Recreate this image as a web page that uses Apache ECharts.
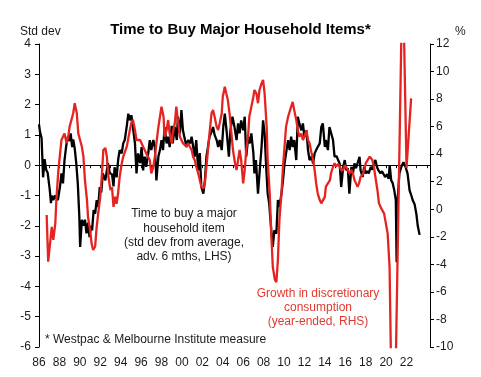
<!DOCTYPE html>
<html>
<head>
<meta charset="utf-8">
<script src="https://cdn.jsdelivr.net/npm/echarts@6/dist/echarts.min.js"></script>
<style>
  html, body { margin: 0; padding: 0; background: #fff; }
  #chart { width: 481px; height: 377px; }
</style>
</head>
<body>
<div id="chart"></div>
<script>
// Time to buy a major household item (std dev, adv. 6 mths, LHS)
var blackYears = [
    1986.0, 1986.1, 1986.25, 1986.4, 1986.55, 1986.7, 1986.85, 1987.05, 1987.17, 1987.25,
    1987.4, 1987.55, 1987.7, 1987.85, 1988.05, 1988.2, 1988.35, 1988.5, 1988.65, 1988.8,
    1988.95, 1989.1, 1989.25, 1989.35, 1989.5, 1989.65, 1989.8, 1989.95, 1990.03, 1990.2,
    1990.35, 1990.5, 1990.65, 1990.8, 1990.95, 1991.1, 1991.2, 1991.35, 1991.5, 1991.65,
    1991.8, 1991.95, 1992.1, 1992.25, 1992.5, 1992.75, 1992.95, 1993.15, 1993.3, 1993.4,
    1993.6, 1993.75, 1993.9, 1994.1, 1994.25, 1994.4, 1994.6, 1994.75, 1994.9, 1995.05,
    1995.2, 1995.4, 1995.55, 1995.7, 1995.9, 1996.05, 1996.2, 1996.35, 1996.5, 1996.7,
    1996.85, 1997.0, 1997.2, 1997.35, 1997.5, 1997.7, 1997.85, 1998.0, 1998.15, 1998.3,
    1998.5, 1998.65, 1998.8, 1999.0, 1999.1, 1999.3, 1999.5, 1999.6, 1999.8, 1999.95,
    2000.1, 2000.3, 2000.45, 2000.6, 2000.8, 2000.95, 2001.1, 2001.25, 2001.4, 2001.6,
    2001.75, 2001.9, 2002.1, 2002.25, 2002.4, 2002.55, 2002.7, 2002.9, 2003.05, 2003.2,
    2003.4, 2003.55, 2003.7, 2003.9, 2004.05, 2004.2, 2004.4, 2004.6, 2004.75, 2004.95,
    2005.15, 2005.35, 2005.5, 2005.65, 2005.8, 2006.0, 2006.15, 2006.3, 2006.5, 2006.65,
    2006.8, 2007.0, 2007.1, 2007.25, 2007.45, 2007.6, 2007.8, 2007.95, 2008.1, 2008.25,
    2008.4, 2008.55, 2008.75, 2008.9, 2009.05, 2009.25, 2009.4, 2009.55, 2009.75, 2009.9,
    2010.05, 2010.2, 2010.4, 2010.55, 2010.7, 2010.85, 2011.0, 2011.2, 2011.35, 2011.5,
    2011.7, 2011.85, 2012.0, 2012.2, 2012.35, 2012.5, 2012.7, 2012.85, 2013.0, 2013.15,
    2013.3, 2013.5, 2013.65, 2013.8, 2014.0, 2014.1, 2014.3, 2014.45, 2014.6, 2014.8,
    2014.95, 2015.15, 2015.3, 2015.45, 2015.6, 2015.8, 2015.95, 2016.1, 2016.25, 2016.4,
    2016.6, 2016.75, 2016.9, 2017.05, 2017.2, 2017.4, 2017.5, 2017.7, 2017.85, 2018.0,
    2018.15, 2018.3, 2018.5, 2018.65, 2018.8, 2018.95, 2019.1, 2019.25, 2019.45, 2019.6,
    2019.9, 2020.1, 2020.25, 2020.35, 2020.5, 2020.65, 2020.8, 2020.95, 2021.03, 2021.13,
    2021.3, 2021.5, 2021.7, 2021.9, 2022.1, 2022.3, 2022.47, 2022.6, 2022.8, 2022.96,
    2023.1, 2023.28
];
var blackValues = [
    1.35, 1.1, 0.9, -0.4, 0.2, -0.15, -0.25, -0.8, -1.25, -1.0,
    -1.15, -1.0, -1.05, -1.15, -0.72, -0.27, -0.6, 0.17, 0.6, 0.93,
    0.8, 1.05, 0.6, 0.85, 0.55, 0.06, -0.6, -1.7, -2.7, -1.8,
    -2.0, -1.8, -2.25, -1.9, -2.37, -2.0, -2.15, -1.48, -1.6, -1.15,
    -1.38, -0.72, -0.9, -0.27, -0.5, 0.07, -0.27, -0.3, -0.7, -0.07,
    -0.4, 0.17, 0.5, 0.39, 0.72, 0.83, 1.3, 1.7, 1.48, 1.65,
    1.26, 0.72, -0.27, 0.39, 0.07, 0.6, -0.17, 0.28, -0.05, 0.39,
    0.83, 0.5, 0.83, 0.6, -0.5, 0.3, 0.5, 0.83, 0.5, 1.26,
    0.72, 0.94, 0.6, 1.3, 0.72, 1.26, 0.83, 1.6, 1.05, 1.82,
    1.15, 0.83, 0.6, 0.83, 0.72, 0.94, 0.94, 0.28, 0.83, -0.17,
    0.4, -0.72, -0.94, -0.5, 0.28, 0.6, 0.94, 1.1, 1.26, 1.0,
    0.83, 0.6, 0.83, 0.5, 1.26, 1.7, 1.05, 0.28, 1.15, 1.6,
    1.26, 0.83, 1.38, 1.05, 1.48, 1.15, 1.6, 0.28, 0.94, 0.72,
    1.05, 0.39, -0.27, 0.17, -0.94, -0.27, 0.6, 1.48, 1.05, -0.05,
    -0.94, -1.27, -2.15, -2.7, -2.15, -2.26, -1.15, -1.38, -0.94, -0.5,
    0.06, 0.39, 0.83, 0.5, 0.94, 0.6, 0.83, 0.17, 1.6, 1.38,
    1.15, 1.38, 0.94, 1.15, 0.5, 0.17, 0.28, 0.06, 0.39, 0.5,
    0.6, 0.72, 1.26, 1.38, 0.6, 0.83, 0.5, 1.26, 1.26, 0.83,
    0.28, 0.3, 0.17, 0.06, -0.72, -0.05, 0.17, -0.17, -0.1, -0.94,
    -0.05, -0.27, 0.06, -0.1, -0.05, 0.28, -0.17, -0.39, -0.05, -0.27,
    -0.2, -0.27, -0.05, -0.15, 0.06, 0.17, -0.05, -0.17, -0.27, -0.2,
    -0.39, -0.3, -0.45, 0.0, -0.5, -0.6, -0.83, -1.15, -3.2, -1.15,
    -0.27, -0.05, 0.1, -0.05, -0.27, -0.83, -1.0, -1.15, -1.3, -1.6,
    -2.0, -2.3
];

// Growth in discretionary consumption, year-ended % (RHS)
var redYears = [
    1986.75, 1986.9, 1987.25, 1987.4, 1987.6, 1987.7, 1987.9, 1988.2, 1988.5, 1988.7,
    1988.85, 1989.0, 1989.35, 1989.5, 1989.7, 1989.85, 1990.2, 1990.35, 1990.5, 1990.7,
    1990.8, 1991.0, 1991.15, 1991.3, 1991.5, 1991.65, 1991.8, 1992.0, 1992.15, 1992.3,
    1992.5, 1992.65, 1992.8, 1993.0, 1993.15, 1993.3, 1993.45, 1993.6, 1993.75, 1993.9,
    1994.1, 1994.25, 1994.6, 1994.9, 1995.05, 1995.2, 1995.4, 1995.55, 1995.9, 1996.2,
    1996.5, 1996.85, 1997.0, 1997.2, 1997.35, 1997.5, 1997.7, 1997.85, 1998.0, 1998.2,
    1998.3, 1998.5, 1998.65, 1998.8, 1999.0, 1999.1, 1999.3, 1999.45, 1999.6, 1999.8,
    1999.95, 2000.1, 2000.45, 2000.6, 2000.95, 2001.1, 2001.25, 2001.4, 2001.6, 2001.75,
    2001.9, 2002.1, 2002.25, 2002.4, 2002.55, 2002.7, 2002.9, 2003.05, 2003.2, 2003.4,
    2003.55, 2003.7, 2003.9, 2004.0, 2004.2, 2004.35, 2004.5, 2004.7, 2004.85, 2005.0,
    2005.2, 2005.35, 2005.5, 2005.65, 2005.8, 2006.0, 2006.15, 2006.3, 2006.5, 2006.6,
    2007.0, 2007.1, 2007.3, 2007.45, 2007.6, 2007.8, 2007.95, 2008.1, 2008.3, 2008.4,
    2008.6, 2008.75, 2008.9, 2009.1, 2009.25, 2009.4, 2009.55, 2009.75, 2009.9, 2010.05,
    2010.2, 2010.4, 2010.7, 2010.85, 2011.0, 2011.2, 2011.35, 2011.5, 2011.7, 2011.85,
    2012.0, 2012.2, 2012.35, 2012.5, 2012.7, 2012.85, 2013.0, 2013.15, 2013.3, 2013.5,
    2013.65, 2013.8, 2014.0, 2014.1, 2014.3, 2014.5, 2014.6, 2014.8, 2014.95, 2015.1,
    2015.3, 2015.45, 2015.6, 2015.8, 2015.95, 2016.1, 2016.25, 2016.4, 2016.6, 2016.75,
    2016.9, 2017.05, 2017.2, 2017.35, 2017.5, 2017.7, 2017.85, 2018.0, 2018.2, 2018.4,
    2018.5, 2018.65, 2018.8, 2018.95, 2019.15, 2019.3, 2019.45, 2019.6, 2019.8, 2019.95,
    2020.15, 2020.34, 2020.7, 2021.62, 2022.0, 2022.45
];
var redValues = [
    -0.42, -3.8, -1.27, -2.23, -1.0, 0.67, 2.85, 5.03, 5.51, 4.8,
    5.2, 6.0, 6.97, 7.7, 6.99, 5.5, 4.54, 3.82, 2.12, 0.67,
    -0.54, -1.5, -2.47, -2.96, -2.7, -1.27, -0.3, 0.91, 2.36, 4.3,
    4.45, 3.8, 2.36, 1.4, 1.6, 0.18, 0.91, 0.4, 1.18, 2.36,
    3.3, 3.82, 4.55, 5.75, 6.3, 6.5, 5.75, 5.03, 5.03, 4.54,
    4.06, 3.58, 2.6, 3.1, 3.82, 4.8, 6.0, 6.72, 7.45, 6.72,
    5.27, 5.75, 6.48, 5.5, 4.8, 5.5, 6.24, 7.45, 6.48, 5.27,
    5.03, 4.8, 4.54, 4.8, 4.3, 3.8, 3.58, 3.1, 2.6, 2.12,
    1.63, 1.52, 1.87, 3.09, 4.3, 5.5, 6.97, 7.2, 6.72, 6.0,
    5.75, 6.24, 6.97, 8.17, 8.9, 8.4, 7.93, 6.72, 5.51, 4.3,
    3.34, 2.85, 3.58, 4.3, 3.58, 1.88, 2.85, 4.3, 5.5, 6.72,
    8.17, 8.66, 8.4, 7.7, 8.66, 9.14, 9.39, 8.4, 6.0, 3.58,
    1.16, -1.75, -4.17, -5.1, -5.3, -3.69, -0.78, 1.16, 3.09, 4.54,
    6.0, 6.72, 7.45, 7.8, 7.2, 6.48, 5.75, 5.27, 5.5, 5.03,
    5.27, 5.75, 5.03, 4.8, 4.06, 3.58, 2.85, 1.88, 1.16, 0.67,
    0.43, 0.43, 0.9, 1.64, 1.88, 2.12, 2.6, 3.09, 3.34, 3.1,
    3.3, 3.1, 2.85, 2.85, 3.2, 3.1, 2.85, 2.6, 2.85, 2.6,
    2.12, 1.88, 1.64, 1.88, 2.36, 2.5, 2.85, 3.34, 3.58, 3.82,
    3.9, 3.58, 3.09, 2.36, 1.4, 0.43, 0.19, -0.05, -0.3, -0.18,
    -1.75, -4.2, -22, 18, 3, 8.05
];

var leftTicks = { min: -6, max: 4, interval: 1 };
var rightTicks = { min: -10, max: 12, interval: 2 };
var yearRange = { min: 1986, max: 2024.3, lastLabel: 2022 };

function zip(xs, ys) {
    return xs.map(function (x, i) {
        return [x, ys[i]];
    });
}

var FONT = '"Liberation Sans", Arial, sans-serif';
var TEXT = '#1a1a1a';
var RED = '#e52421';

var chart = echarts.init(document.getElementById('chart'), null, { renderer: 'canvas' });
chart.setOption({
    animation: false,
    backgroundColor: '#fff',
    title: {
        text: 'Time to Buy Major Household Items*',
        left: 'center',
        top: 17,
        textStyle: { fontFamily: FONT, fontSize: 15, fontWeight: 'bold', color: '#000' }
    },
    grid: { left: 39, right: 51, top: 44, bottom: 30, containLabel: false, outerBoundsMode: 'none' },
    xAxis: [
        {
            type: 'value', min: yearRange.min, max: yearRange.max, interval: 2,
            position: 'bottom',
            axisLine: { show: false, onZero: false },
            axisTick: { show: false },
            splitLine: { show: false },
            axisLabel: {
                margin: 10, color: TEXT, fontFamily: FONT, fontSize: 12,
                showMaxLabel: false,
                formatter: function (v) {
                    return v > yearRange.lastLabel ? '' : String(v).slice(2);
                }
            }
        },
        {
            type: 'value', min: yearRange.min, max: yearRange.max, interval: 1,
            position: 'bottom',
            axisLine: { onZero: true, onZeroAxisIndex: 0, lineStyle: { color: '#000', width: 1 } },
            axisTick: { length: 3, lineStyle: { color: '#000' } },
            axisLabel: { show: false },
            splitLine: { show: false }
        }
    ],
    yAxis: [
        {
            type: 'value', position: 'left',
            min: leftTicks.min, max: leftTicks.max, interval: leftTicks.interval,
            axisLine: { show: true, onZero: false, lineStyle: { color: '#000' } },
            axisTick: { show: true, length: 4, lineStyle: { color: '#000' } },
            splitLine: { show: false },
            axisLabel: { margin: 8, color: TEXT, fontFamily: FONT, fontSize: 12 }
        },
        {
            type: 'value', position: 'right',
            min: rightTicks.min, max: rightTicks.max, interval: rightTicks.interval,
            axisLine: { show: true, onZero: false, lineStyle: { color: '#000' } },
            axisTick: { show: true, length: 4, lineStyle: { color: '#000' } },
            splitLine: { show: false },
            axisLabel: { margin: 6, color: TEXT, fontFamily: FONT, fontSize: 12 }
        }
    ],
    series: [
        {
            name: 'Time to buy a major household item',
            type: 'line',
            xAxisIndex: 1, yAxisIndex: 0,
            data: zip(blackYears, blackValues),
            showSymbol: false,
            clip: true,
            lineStyle: { color: '#000', width: 2.3 }
        },
        {
            name: 'Growth in discretionary consumption',
            type: 'line',
            xAxisIndex: 1, yAxisIndex: 1,
            data: zip(redYears, redValues),
            showSymbol: false,
            clip: true,
            lineStyle: { color: RED, width: 2.3 }
        }
    ],
    graphic: [
        { type: 'text', x: 20, y: 26, style: { text: 'Std dev', fill: TEXT, font: '12px ' + FONT } },
        { type: 'text', x: 455, y: 26, style: { text: '%', fill: TEXT, font: '12px ' + FONT } },
        {
            type: 'text', x: 184, y: 207,
            style: {
                text: 'Time to buy a major\nhousehold item\n(std dev from average,\nadv. 6 mths, LHS)',
                fill: TEXT, font: '12px ' + FONT, textAlign: 'center', lineHeight: 14.3
            }
        },
        {
            type: 'text', x: 318, y: 287,
            style: {
                text: 'Growth in discretionary\nconsumption\n(year-ended, RHS)',
                fill: '#e03a30', font: '12px ' + FONT, textAlign: 'center', lineHeight: 14
            }
        },
        {
            type: 'text', x: 45, y: 334,
            style: { text: '* Westpac & Melbourne Institute measure', fill: TEXT, font: '12px ' + FONT }
        }
    ]
});
</script>
</body>
</html>
